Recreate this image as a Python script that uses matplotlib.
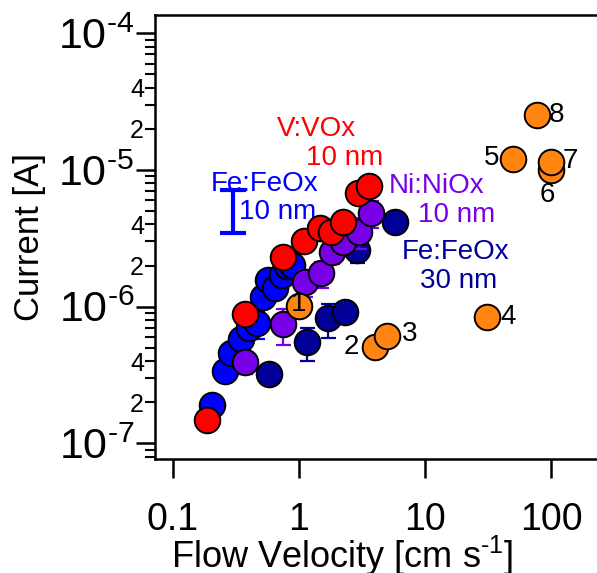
import numpy as np
import matplotlib
matplotlib.use('Agg')
import matplotlib.pyplot as plt
from matplotlib.ticker import LogLocator, FixedLocator, FuncFormatter, NullLocator

plt.rcParams['font.family'] = ['Liberation Sans', 'DejaVu Sans']
plt.rcParams['mathtext.fontset'] = 'custom'
plt.rcParams['mathtext.rm'] = 'Liberation Sans'
plt.rcParams['mathtext.it'] = 'Liberation Sans'

# ---------------------------------------------------------------------------
# Data: flow velocity [cm/s] vs current [A]
# ---------------------------------------------------------------------------

# Fe:FeOx 10 nm
fe10_v = [0.203, 0.259, 0.287, 0.347, 0.40, 0.461, 0.515, 0.571, 0.645, 0.729, 0.798, 0.875]
fe10_i = [1.9e-7, 3.4e-7, 4.6e-7, 5.8e-7, 7.0e-7, 7.55e-7, 1.18e-6, 1.57e-6, 1.36e-6, 1.71e-6,
          1.99e-6, 2.02e-6]
fe10_err = [0.25e-7, 0.4e-7, 0.5e-7, 0.6e-7, 0.8e-7, 1.7e-7, 1.2e-7, 1.6e-7, 1.4e-7, 1.8e-7,
            2.0e-7, 2.0e-7]

# Fe:FeOx 30 nm
fe30_v = [0.578, 1.15, 1.71, 2.32, 2.87, 5.78]
fe30_i = [3.21e-7, 5.54e-7, 8.22e-7, 9.18e-7, 2.6e-6, 4.19e-6]
fe30_err = [0.3e-7, 1.5e-7, 2.3e-7, 0.8e-7, 0.5e-6, 0.4e-6]

# Ni:NiOx 10 nm
ni_v = [0.373, 0.742, 1.12, 1.49, 1.82, 2.22, 3.01, 3.71]
ni_i = [3.95e-7, 7.46e-7, 1.52e-6, 1.75e-6, 2.52e-6, 2.99e-6, 3.54e-6, 4.82e-6]
ni_err = [0.74e-7, 2.2e-7, 0.34e-6, 0.37e-6, 0.45e-6, 0.5e-6, 0.91e-6, 1.08e-6]

# V:VOx 10 nm
v_v = [0.185, 0.373, 0.75, 1.10, 1.47, 1.80, 2.22, 2.94, 3.61]
v_i = [1.48e-7, 8.79e-7, 2.3e-6, 3.02e-6, 3.74e-6, 3.54e-6, 4.19e-6, 6.75e-6, 7.63e-6]

# numbered reference runs
ref_v = [1.0, 4.0, 5.0, 31.0, 50.0, 100.0, 100.0, 78.0]
ref_i = [1.01e-6, 5.05e-7, 6.14e-7, 8.35e-7, 1.2e-5, 1.0e-5, 1.15e-5, 2.52e-5]
ref_labels = ['1', '2', '3', '4', '5', '6', '7', '8']

# representative error bar for Fe:FeOx 10 nm
bar_v = 0.30
bar_lo = 3.46e-6
bar_hi = 7.14e-6

C_BLUE = '#0000ff'
C_NAVY = '#000099'
C_PURPLE = '#7800e6'
C_RED = '#ff0000'
C_ORANGE = '#ff8410'

# ---------------------------------------------------------------------------
# Figure
# ---------------------------------------------------------------------------

W, H = 597, 573
fig = plt.figure(figsize=(W / 100, H / 100), dpi=100)
ax = fig.add_axes([155 / W, 1 - 459 / H, (600 - 155) / W, (459 - 15) / H])
ax.set_xscale('log')
ax.set_yscale('log')
ax.set_xlim(10 ** -1.143, 10 ** 2.389)
ax.set_ylim(10 ** -7.114, 10 ** -3.866)

MS = 340
EW = 1.4


def series(x, y, err, color, z):
    if err is not None:
        ax.errorbar(x, y, yerr=err, fmt='none', ecolor=color, elinewidth=1.6,
                    capsize=5.4, capthick=1.6, zorder=z)
    ax.scatter(x, y, s=MS, c=color, edgecolors='black', linewidths=EW, zorder=z + 0.5)


series(fe10_v, fe10_i, fe10_err, C_BLUE, 2)
series(fe30_v, fe30_i, fe30_err, C_NAVY, 3)
series(ni_v, ni_i, ni_err, C_PURPLE, 4)
series(v_v, v_i, None, C_RED, 5)
series(ref_v, ref_i, None, C_ORANGE, 6)

# representative error bar
bar_c = np.sqrt(bar_lo * bar_hi)
ax.errorbar([bar_v], [bar_c], yerr=[[bar_c - bar_lo], [bar_hi - bar_c]], fmt='none',
            ecolor=C_BLUE, elinewidth=3, capsize=9.7, capthick=3, zorder=7)

# series labels
TS = 20
ax.text(1.365, 2.0e-5, 'V:VOx', color=C_RED, fontsize=TS, ha='center', va='center')
ax.text(2.32, 1.22e-5, '10 nm', color=C_RED, fontsize=TS, ha='center', va='center')
ax.text(0.537, 7.9e-6, 'Fe:FeOx', color=C_BLUE, fontsize=TS, ha='center', va='center')
ax.text(0.68, 4.93e-6, '10 nm', color=C_BLUE, fontsize=TS, ha='center', va='center')
ax.text(12.45, 7.63e-6, 'Ni:NiOx', color=C_PURPLE, fontsize=TS, ha='center', va='center')
ax.text(17.9, 4.69e-6, '10 nm', color=C_PURPLE, fontsize=TS, ha='center', va='center')
ax.text(17.6, 2.51e-6, 'Fe:FeOx', color=C_NAVY, fontsize=TS, ha='center', va='center')
ax.text(18.6, 1.54e-6, '30 nm', color=C_NAVY, fontsize=TS, ha='center', va='center')

# run numbers next to the reference points
num_pos = [(1.0, 1.05e-6), (2.59, 5.07e-7), (7.6, 6.3e-7), (45.6, 8.4e-7),
           (34.0, 1.22e-5), (93.0, 6.56e-6), (141.5, 1.16e-5), (111.6, 2.52e-5)]
for lab, (tx, ty) in zip(ref_labels, num_pos):
    ax.text(tx, ty, lab, color='black', fontsize=TS, ha='center', va='center', zorder=8)

# ---------------------------------------------------------------------------
# Axes styling
# ---------------------------------------------------------------------------

for sp in ax.spines.values():
    sp.set_linewidth(1.8)

ax.xaxis.set_major_locator(FixedLocator([0.1, 1, 10, 100]))
ax.xaxis.set_minor_locator(NullLocator())
ax.xaxis.set_major_formatter(FuncFormatter(lambda v, p: '%g' % v))

ax.yaxis.set_major_locator(LogLocator(base=10, numticks=10))
ax.yaxis.set_minor_locator(LogLocator(base=10, subs=np.arange(2, 10), numticks=20))
ax.yaxis.set_major_formatter(
    FuncFormatter(lambda v, p: '$10^{\u2010%d}$' % abs(round(np.log10(v)))))


def minor_label(v, p):
    m = v / 10 ** np.floor(np.log10(v) + 1e-9)
    m = round(m)
    return str(m) if m in (2, 4) else ''


ax.yaxis.set_minor_formatter(FuncFormatter(minor_label))

ax.tick_params(which='major', direction='out', length=14, width=1.8)
ax.tick_params(which='minor', direction='out', length=7, width=1.5)
ax.tick_params(axis='x', which='major', labelsize=27, pad=17)
ax.tick_params(axis='y', which='major', labelsize=31, pad=1)
ax.tick_params(axis='y', which='minor', labelsize=18, pad=1)

ax.set_xlabel('Flow Velocity [cm s$^{\u20101}$]', fontsize=26)
ax.xaxis.set_label_coords((342 - 155) / 445, -(556 - 459) / 444, transform=None)
ax.xaxis.label.set_transform(ax.transAxes)
ax.xaxis.label.set_va('center')
ax.set_ylabel('Current [A]', fontsize=25)
ax.yaxis.set_label_coords(-(155 - 30) / 445, 0.5)
ax.yaxis.label.set_va('center')

fig.savefig('out.png', dpi=100)
